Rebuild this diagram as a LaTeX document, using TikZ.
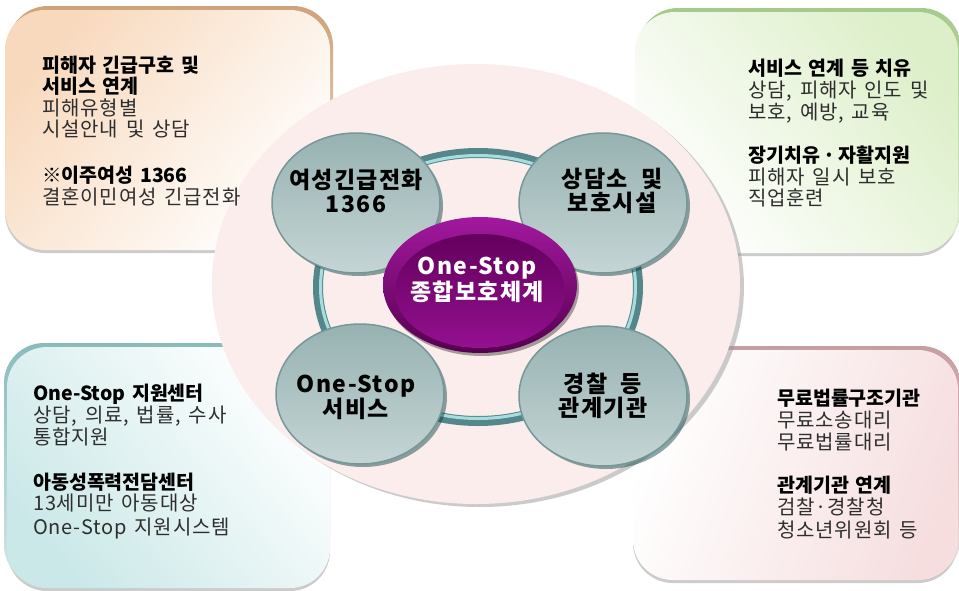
\documentclass[tikz,border=0pt]{standalone}
\usepackage{fontspec}
\setmainfont{Noto Sans CJK KR}[WordSpace=1.5]
\newfontfamily\bodyfont{Noto Sans CJK KR}[LetterSpace=4,WordSpace=1.5]
\newfontfamily\labfont{Noto Sans CJK KR}[LetterSpace=6,WordSpace=2]
\usetikzlibrary{shapes.geometric,shadows}
\definecolor{pinkbg}{HTML}{FCEDED}
\definecolor{txtgray}{HTML}{2E2E2E}
\definecolor{tlrim}{HTML}{CFA37A}
\definecolor{tlfill}{HTML}{F8D9BD}
\definecolor{trrim}{HTML}{A6CA8B}
\definecolor{trfill}{HTML}{DDEFC9}
\definecolor{blrim}{HTML}{8ABBBB}
\definecolor{blfill}{HTML}{CBE8E8}
\definecolor{brrim}{HTML}{C69EA2}
\definecolor{brfill}{HTML}{F6DEDF}
\definecolor{ringdark}{HTML}{55878A}
\definecolor{ringlight}{HTML}{A8DDDD}
\definecolor{bubtop}{HTML}{97B2B2}
\definecolor{bubbot}{HTML}{C5D5D5}
\definecolor{bubedge}{HTML}{779797}
\definecolor{purtop}{HTML}{A2189E}
\definecolor{purbot}{HTML}{560050}
\definecolor{purin}{HTML}{64005E}
\definecolor{purinb}{HTML}{94108F}
\begin{document}
\begin{tikzpicture}[x=1pt,y=-1pt,
  corner/.style={rounded corners=40pt},
  boxtxt/.style={anchor=base west, inner sep=0pt, font=\bodyfont\fontsize{20}{21}\selectfont, text=txtgray},
  boxhead/.style={anchor=base west, inner sep=0pt, font=\fontsize{19.5}{21}\selectfont\bfseries, text=black},
  bubble/.style={ellipse, inner sep=0pt, minimum width=168pt, minimum height=140pt,
     shading=axis, top color=bubtop, bottom color=bubbot, draw=bubedge, line width=1.5pt,
     drop shadow={shadow xshift=3pt, shadow yshift=-3pt, fill=black!55!teal, opacity=.45}},
  bublab/.style={align=center, inner sep=0pt, font=\labfont\bfseries\fontsize{23}{23.5}\selectfont, text=black},
]
\useasboundingbox (0,0) rectangle (959,590);
\fill[white] (0,0) rectangle (959,590);

% ---- corner boxes ----
% top-left
\fill[corner, gray!40] (5,13) rectangle (330,253);
\path[corner, shading=axis, top color=tlrim, bottom color=tlrim!35] (8,6) rectangle (333,247);
\path[corner, shading=axis, top color=tlfill, bottom color=white, shading angle=50] (5,10) rectangle (330,250);
% top-right
\fill[corner, gray!40] (635,15) rectangle (958,256);
\path[corner, shading=axis, top color=trrim, bottom color=trrim!35] (638,8) rectangle (961,250);
\path[corner, shading=axis, top color=trfill, bottom color=white, shading angle=-50] (635,12) rectangle (958,253);
% bottom-left
\fill[corner, gray!40] (7,350) rectangle (330,591);
\path[corner, shading=axis, top color=blrim, bottom color=blrim!35] (4,343) rectangle (327,585);
\path[corner, shading=axis, top color=blfill, bottom color=white, shading angle=130] (7,347) rectangle (330,588);
% bottom-right
\fill[corner, gray!40] (633,353) rectangle (958,583);
\path[corner, shading=axis, top color=brrim, bottom color=brrim!35] (636,346) rectangle (961,577);
\path[corner, shading=axis, top color=brfill, bottom color=white, shading angle=-110] (633,350) rectangle (958,580);

% ---- big ellipse ----
\coordinate (mid) at (476,284);
\fill[black!40, opacity=.5] ([shift={(4,3)}]mid) ellipse [x radius=264, y radius=220];
\fill[pinkbg] (mid) ellipse [x radius=264, y radius=220];

% ---- ring ----
\coordinate (ringc) at (478,287);
\draw[ringdark, line width=10pt] (ringc) ellipse [x radius=160, y radius=134];
\draw[ringlight, line width=3pt] (ringc) ellipse [x radius=157.5, y radius=131.5];

% ---- four bubbles ----
\node[bubble] (c1) at (356,203) {};
\node[bubble] (c2) at (603,203) {};
\node[bubble] (c3) at (360,394) {};
\node[bubble] (c4) at (603,396) {};

% ---- centre ----
\node[ellipse, inner sep=0pt, minimum width=194pt, minimum height=136pt,
      shading=axis, top color=purtop, bottom color=purbot,
      drop shadow={shadow xshift=2pt, shadow yshift=-3pt, fill=black, opacity=.35}] (ctr) at (480,285) {};
\node[ellipse, inner sep=0pt, minimum width=170pt, minimum height=114pt,
      shading=axis, top color=purin, bottom color=purinb] (ctrin) at (480,291) {};

% ---- bubble labels ----
\node[bublab] (l1) at (356,191) {여성긴급전화\\1366};
\node[bublab] (l2) at (612,191) {상담소 및\\보호시설};
\node[bublab] (l3) at (356,397) {One-Stop\\서비스};
\node[bublab] (l4) at (603,396) {경찰 등\\관계기관};
\node[bublab, text=white] (lc) at (477,280) {One-Stop\\종합보호체계};

% ---- top-left text ----
\node[boxhead] (tl1) at (42,72) {피해자 긴급구호 및};
\node[boxhead] (tl2) at (42,93) {서비스 연계};
\node[boxtxt]  (tl3) at (42,115) {피해유형별};
\node[boxtxt]  (tl4) at (42,136) {시설안내 및 상담};
\node[boxhead] (tl5) at (42,182) {※이주여성 1366};
\node[boxtxt]  (tl6) at (42,204) {결혼이민여성 긴급전화};

% ---- top-right text ----
\node[boxhead] (tr1) at (748,75) {서비스 연계 등 치유};
\node[boxtxt]  (tr2) at (748,97) {상담, 피해자 인도 및};
\node[boxtxt]  (tr3) at (748,119) {보호, 예방, 교육};
\node[boxhead] (tr4) at (748,162) {장기치유\,·\,자활지원};
\node[boxtxt]  (tr5) at (748,184) {피해자 일시 보호};
\node[boxtxt]  (tr6) at (748,205) {직업훈련};

% ---- bottom-left text ----
\node[boxhead] (bl1) at (33,400) {One-Stop 지원센터};
\node[boxtxt]  (bl2) at (33,422) {상담, 의료, 법률, 수사};
\node[boxtxt]  (bl3) at (33,444) {통합지원};
\node[boxhead] (bl4) at (33,489) {아동성폭력전담센터};
\node[boxtxt]  (bl5) at (33,510) {13세미만 아동대상};
\node[boxtxt]  (bl6) at (33,534) {One-Stop 지원시스템};

% ---- bottom-right text ----
\node[boxhead] (br1) at (777,405) {무료법률구조기관};
\node[boxtxt]  (br2) at (777,427) {무료소송대리};
\node[boxtxt]  (br3) at (777,449) {무료법률대리};
\node[boxhead] (br4) at (777,492) {관계기관 연계};
\node[boxtxt]  (br5) at (777,514) {검찰·경찰청};
\node[boxtxt]  (br6) at (777,537) {청소년위원회 등};
\end{tikzpicture}
\end{document}
